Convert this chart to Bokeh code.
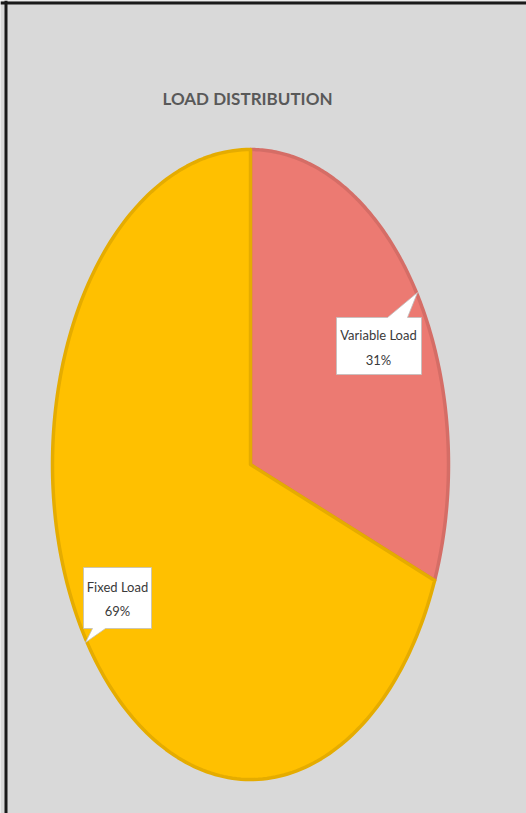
import numpy as np
from bokeh.plotting import figure
from bokeh.models import Span, ColumnDataSource
from bokeh.core.properties import value
from bokeh.embed import file_html
from bokeh.resources import INLINE

# ---- data ----
title_text = "LOAD DISTRIBUTION"
categories = ["Variable Load", "Fixed Load"]
values = [31, 69]
fill_colors = ["#ec7a72", "#ffc000"]
edge_colors = ["#d56d66", "#e5ac00"]

W, H = 526, 813
PAGE = 0


def X(px):
    return px - PAGE


def Y(py):
    return H - (py - PAGE)


p = figure(width=W, height=H, output_backend="svg", toolbar_location=None,
           x_range=(0, W), y_range=(0, H), min_border=0,
           background_fill_color="#d9d9d9", border_fill_color="#d9d9d9",
           outline_line_color=None)
p.axis.visible = False
p.grid.visible = False

# frame lines (top and left)
p.add_layout(Span(location=Y(2.5), dimension="width", line_color="#1a1a1a", line_width=3))
p.add_layout(Span(location=X(5.5), dimension="height", line_color="#1a1a1a", line_width=3))

# ---- stretched pie ----
cx, cy = X(250), Y(464)
rx, ry = 198, 315
total = float(sum(values))
xs, ys = [], []
start = 0.0
for v in values:
    a0 = start / total * 2 * np.pi
    a1 = (start + v) / total * 2 * np.pi
    th = np.linspace(a0, a1, 200)
    xs.append([cx] + list(cx + rx * np.sin(th)) + [cx])
    ys.append([cy] + list(cy + ry * np.cos(th)) + [cy])
    start += v

src = ColumnDataSource(dict(xs=xs, ys=ys, fill=fill_colors, edge=edge_colors))
p.patches("xs", "ys", source=src, fill_color="fill", line_color="edge",
          line_width=3.5, line_join="round")

# ---- callout labels ----
# box (left, right, top, bottom), pointer tip, pointer base on edge
callouts = [
    dict(box=(336, 421, 317, 374), tip=(417, 292), base=(387, 407), side="top",
         tx=378, ty1=334, ty2=359),
    dict(box=(83, 151, 567, 628), tip=(85, 642), base=(92, 105), side="bottom",
         tx=117, ty1=586, ty2=610),
]
cxs, cys = [], []
for c in callouts:
    l, r, t, b = c["box"]
    b0, b1 = c["base"]
    tx_, ty_ = c["tip"]
    if c["side"] == "top":
        pts = [(l, t), (b0, t), (tx_, ty_), (b1, t), (r, t), (r, b), (l, b)]
    else:
        pts = [(l, t), (r, t), (r, b), (b1, b), (tx_, ty_), (b0, b), (l, b)]
    cxs.append([X(px) for px, _ in pts])
    cys.append([Y(py) for _, py in pts])
p.patches(cxs, cys, fill_color="white", line_color="#bfbfbf", line_width=0.8)

name_x = [X(c["tx"]) for c in callouts]
name_y = [Y(c["ty1"]) for c in callouts]
pct_y = [Y(c["ty2"]) for c in callouts]
pct_text = [f"{v}%" for v in values]

font = value("Lato")
p.text(x=name_x, y=name_y, text=categories, text_font=font, text_font_size="13px",
       text_color="#3a3a3a", text_align="center", text_baseline="middle")
p.text(x=name_x, y=pct_y, text=pct_text, text_font=font, text_font_size="13px",
       text_color="#3a3a3a", text_align="center", text_baseline="middle")

# ---- title ----
p.text(x=[X(247)], y=[Y(98)], text=[title_text], text_font=font,
       text_font_size="17px", text_font_style="bold", text_color="#595959",
       text_align="center", text_baseline="middle")

open("out.html", "w").write(file_html(p, INLINE))
